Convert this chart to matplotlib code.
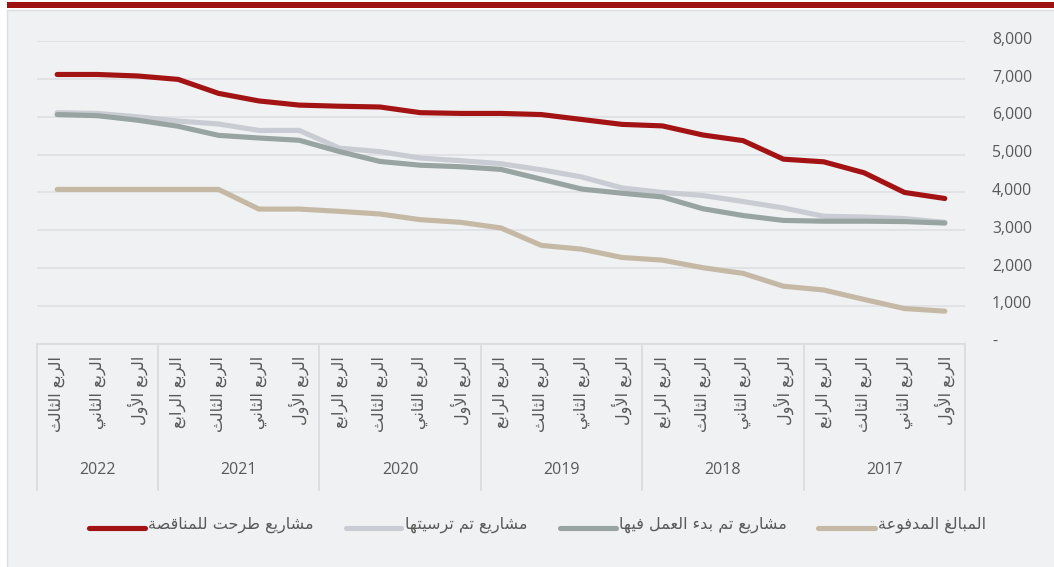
import numpy as np
import matplotlib
matplotlib.use('Agg')
import matplotlib.pyplot as plt
from matplotlib.transforms import blended_transform_factory, ScaledTranslation
from matplotlib.patches import Rectangle
from matplotlib.lines import Line2D

plt.rcParams['font.family'] = ['Open Sans', 'DejaVu Sans']

# ---------------- data (chronological: 2017 Q1 ... 2022 Q3) ----------------
years = ['2017', '2018', '2019', '2020', '2021', '2022']
quarters_per_year = [4, 4, 4, 4, 4, 3]
quarter_names = ['الربع الأول', 'الربع الثاني', 'الربع الثالث', 'الربع الرابع']

tendered = [3840, 4000, 4520, 4810, 4880, 5370, 5520, 5760, 5800, 5930, 6060, 6090,
            6090, 6110, 6260, 6280, 6310, 6420, 6620, 6990, 7080, 7120, 7120]
awarded = [3210, 3310, 3350, 3370, 3590, 3760, 3920, 4000, 4120, 4410, 4600, 4760,
           4840, 4910, 5080, 5170, 5640, 5640, 5810, 5890, 6000, 6090, 6110]
started = [3190, 3230, 3240, 3240, 3260, 3390, 3570, 3880, 3980, 4090, 4350, 4610,
           4680, 4720, 4820, 5080, 5380, 5440, 5510, 5750, 5910, 6030, 6060]
paid = [860, 930, 1170, 1420, 1520, 1860, 2010, 2210, 2280, 2500, 2600, 3060,
        3210, 3280, 3430, 3500, 3560, 3560, 4080, 4080, 4080, 4080, 4080]

series_labels = ['مشاريع طرحت للمناقصة', 'مشاريع تم ترسيتها',
                 'مشاريع تم بدء العمل فيها', 'المبالغ المدفوعة']
series_colors = ['#a31313', '#c9ccd2', '#97a4a2', '#c5b9a6']
yticks = [0, 1000, 2000, 3000, 4000, 5000, 6000, 7000, 8000]

# ---------------- minimal Arabic shaping (presentation forms + visual order) ----------------
_counts = [('\u0621', 1), ('\u0622', 2), ('\u0623', 2), ('\u0624', 2), ('\u0625', 2),
           ('\u0626', 4), ('\u0627', 2), ('\u0628', 4), ('\u0629', 2), ('\u062A', 4),
           ('\u062B', 4), ('\u062C', 4), ('\u062D', 4), ('\u062E', 4), ('\u062F', 2),
           ('\u0630', 2), ('\u0631', 2), ('\u0632', 2), ('\u0633', 4), ('\u0634', 4),
           ('\u0635', 4), ('\u0636', 4), ('\u0637', 4), ('\u0638', 4), ('\u0639', 4),
           ('\u063A', 4), ('\u0641', 4), ('\u0642', 4), ('\u0643', 4), ('\u0644', 4),
           ('\u0645', 4), ('\u0646', 4), ('\u0647', 4), ('\u0648', 2), ('\u0649', 2),
           ('\u064A', 4)]
FORMS = {}
_code = 0xFE80
for _ch, _n in _counts:
    FORMS[_ch] = [chr(_code + k) for k in range(_n)]
    _code += _n
LAM_ALEF = {'\u0622': (0xFEF5, 0xFEF6), '\u0623': (0xFEF7, 0xFEF8),
            '\u0625': (0xFEF9, 0xFEFA), '\u0627': (0xFEFB, 0xFEFC)}


def shape(text):
    tokens = []
    i = 0
    while i < len(text):
        c = text[i]
        if c == '\u0644' and i + 1 < len(text) and text[i + 1] in LAM_ALEF:
            tokens.append(('LA', text[i + 1]))
            i += 2
        else:
            tokens.append(('C', c))
            i += 1

    def joins_next(tok):
        kind, c = tok
        if kind == 'LA':
            return False
        return c in FORMS and len(FORMS[c]) == 4

    def joins_prev(tok):
        kind, c = tok
        if kind == 'LA':
            return True
        return c in FORMS and len(FORMS[c]) >= 2

    out = []
    for k, tok in enumerate(tokens):
        prev = tokens[k - 1] if k > 0 else None
        nxt = tokens[k + 1] if k + 1 < len(tokens) else None
        p = prev is not None and joins_next(prev) and joins_prev(tok)
        n = nxt is not None and joins_next(tok) and joins_prev(nxt)
        kind, c = tok
        if kind == 'LA':
            iso, fin = LAM_ALEF[c]
            out.append(chr(fin if p else iso))
        elif c in FORMS:
            f = FORMS[c]
            if len(f) == 1:
                out.append(f[0])
            elif len(f) == 2:
                out.append(f[1] if p else f[0])
            else:
                if p and n:
                    out.append(f[3])
                elif p:
                    out.append(f[1])
                elif n:
                    out.append(f[2])
                else:
                    out.append(f[0])
        else:
            out.append(c)
    return ''.join(reversed(out))


# ---------------- figure ----------------
W, H = 1054, 567
fig = plt.figure(figsize=(W / 100, H / 100), dpi=100, facecolor='white')


def fx(px):
    return px / W


def fy(py):
    return 1 - py / H


bg = Rectangle((fx(7), -0.01), 1.01 - fx(7), fy(10) + 0.01,
               transform=fig.transFigure, facecolor='#eff1f3',
               edgecolor='#dcdee1', lw=1, zorder=-10)
fig.add_artist(bg)
fig.add_artist(Rectangle((fx(7), fy(7.5)), 1.0 - fx(7), 6 / H,
                         transform=fig.transFigure, facecolor='#9e1212',
                         edgecolor='none', zorder=1))

ax_top, ax_bot = 41.2, 343.7
ax = fig.add_axes([fx(37), fy(ax_bot), fx(965) - fx(37), (ax_bot - ax_top) / H])
ax.patch.set_alpha(0)
ax.set_zorder(2)

n = len(tendered)
x = np.arange(n)
for vals, col in zip([tendered, awarded, started, paid], series_colors):
    ax.plot(x, vals, color=col, lw=3.7, solid_capstyle='round',
            solid_joinstyle='round', zorder=3)

ax.set_xlim(n - 0.5, -0.5)
ax.set_ylim(0, 8000)
ax.set_yticks(yticks)
ax.set_yticklabels(['-' if v == 0 else f'{v:,}' for v in yticks])
ax.yaxis.tick_right()
ax.tick_params(axis='y', length=0, pad=19.5, labelsize=11.3, labelcolor='#595959')
ax.set_xticks([])
for s in ax.spines.values():
    s.set_visible(False)
ax.grid(axis='y', color='#dfe1e4', lw=1.3)
ax.set_axisbelow(True)
off = ScaledTranslation(0, 0.035, fig.dpi_scale_trans)
for lbl in ax.get_yticklabels():
    lbl.set_transform(lbl.get_transform() + off)

# ---------------- multi-level category axis ----------------
trans = blended_transform_factory(ax.transData, ax.transAxes)
ax_h = ax_bot - ax_top


def yax(py):
    return -(py - ax_bot) / ax_h


sep_col = '#d9dbde'
ax.plot([-0.5, n - 0.5], [0, 0], transform=trans, color=sep_col, lw=1.3,
        clip_on=False, zorder=2)
bounds = np.concatenate([[0], np.cumsum(quarters_per_year)]) - 0.5
for b in bounds:
    ax.plot([b, b], [0, yax(490)], transform=trans, color=sep_col, lw=1.3,
            clip_on=False, zorder=2)

idx = 0
for yr, cnt in zip(years, quarters_per_year):
    for q in range(cnt):
        ax.text(idx, yax(356), shape(quarter_names[q]), rotation=90, ha='center',
                va='top', transform=trans, fontsize=11.5, family='DejaVu Sans',
                color='#595959')
        idx += 1
    ax.text(idx - cnt + (cnt - 1) / 2, yax(470), yr, ha='center', va='center',
            transform=trans, fontsize=11.5, color='#595959')

# ---------------- legend ----------------
leg_line = [(89, 145), (346, 401), (560, 616), (818, 875)]
leg_text_x = [148, 405, 619, 878]
for (x0, x1), tx, lab, col in zip(leg_line, leg_text_x, series_labels, series_colors):
    fig.add_artist(Line2D([fx(x0), fx(x1)], [fy(528), fy(528)], color=col, lw=3.7,
                          solid_capstyle='round', transform=fig.transFigure))
    fig.text(fx(tx), fy(525), shape(lab), ha='left', va='center', fontsize=11.5,
             family='DejaVu Sans', color='#595959')

fig.savefig('out.png', dpi=100, facecolor=fig.get_facecolor())
